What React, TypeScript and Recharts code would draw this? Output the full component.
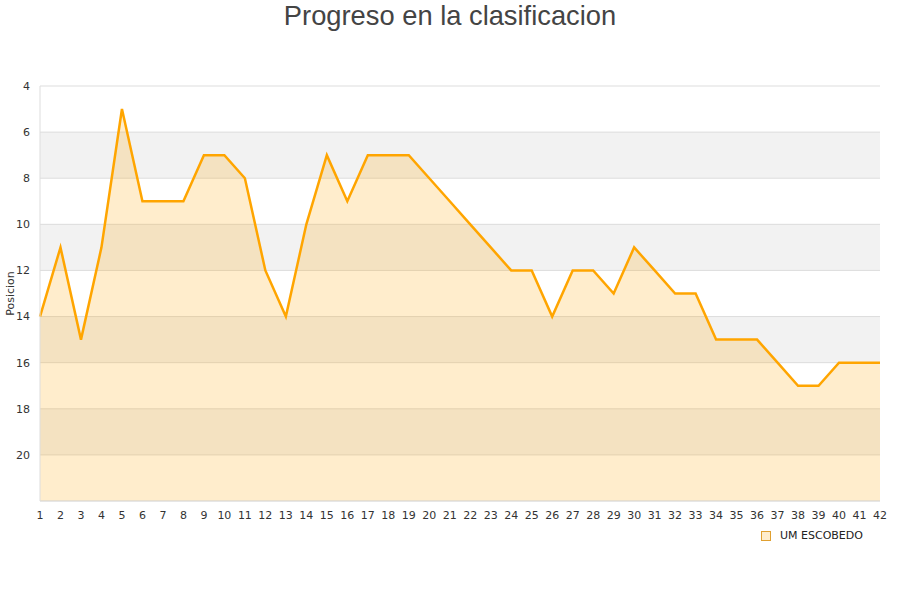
import React from 'react';
import { ComposedChart, Area, XAxis, YAxis, CartesianGrid, Legend } from 'recharts';

const jornadas = [1,2,3,4,5,6,7,8,9,10,11,12,13,14,15,16,17,18,19,20,21,22,23,24,25,26,27,28,29,30,31,32,33,34,35,36,37,38,39,40,41,42];
const posiciones = [14,11,15,11,5,9,9,9,7,7,8,12,14,10,7,9,7,7,7,8,9,10,11,12,12,14,12,12,13,11,12,13,13,15,15,15,16,17,17,16,16,16];
const yTicks = [4,6,8,10,12,14,16,18,20];
const seriesName = 'UM ESCOBEDO';
const title = 'Progreso en la clasificacion';

const data = jornadas.map((j, i) => ({ jornada: j, pos: posiciones[i] }));

const font = 'DejaVu Sans, sans-serif';

const LegendContent = () => (
  <div style={{ display: 'flex', alignItems: 'center', fontFamily: font, fontSize: 11, color: '#222' }}>
    <span style={{ display: 'inline-block', width: 8, height: 8, border: '1px solid #e0a030', background: '#ffedcc', marginRight: 9 }} />
    <span>{seriesName}</span>
  </div>
);

export default function App() {
  return (
    <div style={{ position: 'absolute', left: 0, top: 0, width: 900, height: 600, background: '#fff' }}>
      <div style={{ position: 'absolute', left: 0, top: 0, width: 900, textAlign: 'center', fontFamily: 'Liberation Sans, Arial, sans-serif', fontSize: 27.3, lineHeight: '32px', color: '#444' }}>
        {title}
      </div>
      <ComposedChart width={900} height={600} data={data} margin={{ top: 86, right: 20, bottom: 56, left: 0 }}>
        <CartesianGrid horizontal vertical={false} stroke="#dddddd" horizontalFill={['#ffffff', '#f2f2f2']} fillOpacity={1} />
        <XAxis dataKey="jornada" type="number" domain={[1, 42]} ticks={jornadas} interval={0} tickLine={false}
          axisLine={{ stroke: '#dddddd' }} tick={{ fontFamily: font, fontSize: 11, fill: '#333' }} tickMargin={4} />
        <YAxis type="number" reversed domain={[4, 22]} ticks={yTicks} interval={0} width={40} tickLine={false}
          axisLine={{ stroke: '#dddddd' }} tick={{ fontFamily: font, fontSize: 11, fill: '#333' }} tickMargin={4}
          label={{ value: 'Posicion', angle: -90, position: 'insideLeft', offset: 10, style: { textAnchor: 'middle', fontFamily: font, fontSize: 11, fill: '#333' } }} />
        <YAxis yAxisId="right" orientation="right" width={0} tick={false} tickLine={false} axisLine={{ stroke: '#dddddd' }} />
        <Area type="linear" dataKey="pos" name={seriesName} baseValue={22} stroke="#ffa500" strokeWidth={2.5}
          fill="#ffa500" fillOpacity={0.2} dot={false} activeDot={false} isAnimationActive={false} />
        <Legend content={<LegendContent />} wrapperStyle={{ position: 'absolute', left: 761, top: 529, width: 'auto' }} />
      </ComposedChart>
    </div>
  );
}
